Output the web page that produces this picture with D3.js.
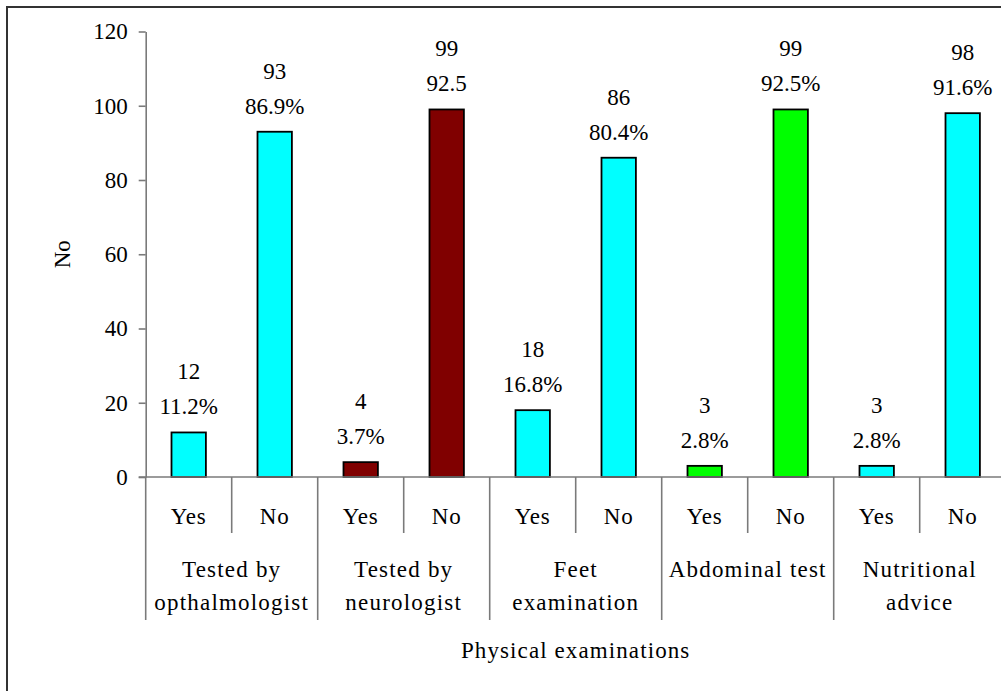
<!DOCTYPE html>
<html>
<head>
<meta charset="utf-8">
<script src="https://cdn.jsdelivr.net/npm/d3@7"></script>
</head>
<body style="margin:0;background:#fff">
<svg id="chart" width="1001" height="691" style="display:block"></svg>
<script>
// Physical examinations: count of patients answering Yes / No
const groupLabels = [
  ["Tested by", "opthalmologist"],
  ["Tested by", "neurologist"],
  ["Feet", "examination"],
  ["Abdominal test"],
  ["Nutritional", "advice"]
];
const answers = ["Yes", "No"];
const yesCounts = [12, 4, 18, 3, 3];
const noCounts = [93, 99, 86, 99, 98];
const yesPct = ["11.2%", "3.7%", "16.8%", "2.8%", "2.8%"];
const noPct = ["86.9%", "92.5", "80.4%", "92.5%", "91.6%"];
const groupColors = ["#00FFFF", "#800000", "#00FFFF", "#00FF00", "#00FFFF"];
const yTicks = [0, 20, 40, 60, 80, 100, 120];

const bars = [];
groupLabels.forEach((g, i) => {
  bars.push({ key: i + "-Yes", group: i, answer: answers[0], value: yesCounts[i], pct: yesPct[i], color: groupColors[i] });
  bars.push({ key: i + "-No", group: i, answer: answers[1], value: noCounts[i], pct: noPct[i], color: groupColors[i] });
});

const FONT = '"Liberation Serif", serif';
const font = (sel, spacing) => sel
  .style("font-family", FONT)
  .style("font-size", "23px")
  .style("letter-spacing", spacing || "0px")
  .attr("fill", "#000");

const svg = d3.select("#chart");
const plotLeft = 145.7, slot = 86, plotTop = 31.5, plotBottom = 477;
const axisColor = "#7a7a7a";

// outer frame
svg.append("rect")
  .attr("x", 7).attr("y", 7)
  .attr("width", 1020).attr("height", 720)
  .attr("fill", "none").attr("stroke", "#333").attr("stroke-width", 2);

const x = d3.scaleBand()
  .domain(bars.map(d => d.key))
  .range([plotLeft, plotLeft + slot * bars.length])
  .paddingInner(0).paddingOuter(0);

const y = d3.scaleLinear().domain([0, 120]).range([plotBottom, plotTop]);

// y axis
const yAxis = svg.append("g")
  .attr("transform", `translate(${plotLeft},0)`)
  .call(d3.axisLeft(y).tickValues(yTicks).tickSize(7).tickPadding(11).tickSizeOuter(0));
yAxis.attr("font-family", null).attr("font-size", null);
yAxis.select(".domain").attr("stroke", axisColor).attr("stroke-width", 1.6);
yAxis.selectAll(".tick line").attr("stroke", axisColor).attr("stroke-width", 1.6);
font(yAxis.selectAll(".tick text"));

// bars
const barW = x.bandwidth() * 0.4;
svg.append("g").selectAll("rect")
  .data(bars)
  .join("rect")
  .attr("x", d => x(d.key) + (x.bandwidth() - barW) / 2)
  .attr("y", d => y(d.value))
  .attr("width", barW)
  .attr("height", d => y(0) - y(d.value))
  .attr("fill", d => d.color)
  .attr("stroke", "#000")
  .attr("stroke-width", 1.8);

// value labels (count over percentage)
const lbl = svg.append("g").selectAll("g")
  .data(bars)
  .join("g")
  .attr("transform", d => `translate(${x(d.key) + x.bandwidth() / 2},${y(d.value)})`);
font(lbl.append("text").attr("text-anchor", "middle").attr("y", -53).text(d => d.value));
font(lbl.append("text").attr("text-anchor", "middle").attr("y", -18).text(d => d.pct));

// category axis baseline
svg.append("line")
  .attr("x1", plotLeft - 7).attr("x2", x.range()[1])
  .attr("y1", y(0)).attr("y2", y(0))
  .attr("stroke", axisColor).attr("stroke-width", 1.6);

// separators: long between groups, short between Yes/No
const boundaries = d3.range(bars.length + 1);
svg.append("g").selectAll("line")
  .data(boundaries)
  .join("line")
  .attr("x1", i => plotLeft + i * x.bandwidth())
  .attr("x2", i => plotLeft + i * x.bandwidth())
  .attr("y1", y(0))
  .attr("y2", i => (i % 2 === 0 ? 620 : 533))
  .attr("stroke", axisColor).attr("stroke-width", 1.6);

// Yes / No labels
font(svg.append("g").selectAll("text")
  .data(bars)
  .join("text")
  .attr("x", d => x(d.key) + x.bandwidth() / 2)
  .attr("y", 524)
  .attr("text-anchor", "middle")
  .text(d => d.answer), "0.8px");

// group labels
const gl = font(svg.append("g").selectAll("text")
  .data(groupLabels)
  .join("text")
  .attr("x", (d, i) => plotLeft + (i * 2 + 1) * x.bandwidth())
  .attr("y", 577)
  .attr("text-anchor", "middle"), "1.2px");
gl.selectAll("tspan")
  .data(d => d)
  .join("tspan")
  .attr("x", function () { return d3.select(this.parentNode).attr("x"); })
  .attr("dy", (d, j) => (j === 0 ? 0 : 33))
  .text(d => d);

// axis titles
font(svg.append("text")
  .attr("x", (x.range()[0] + x.range()[1]) / 2)
  .attr("y", 658)
  .attr("text-anchor", "middle")
  .text("Physical examinations"), "1.1px");

font(svg.append("text")
  .attr("transform", `translate(70,${(plotTop + plotBottom) / 2}) rotate(-90)`)
  .attr("text-anchor", "middle")
  .text("No"));
</script>
</body>
</html>
